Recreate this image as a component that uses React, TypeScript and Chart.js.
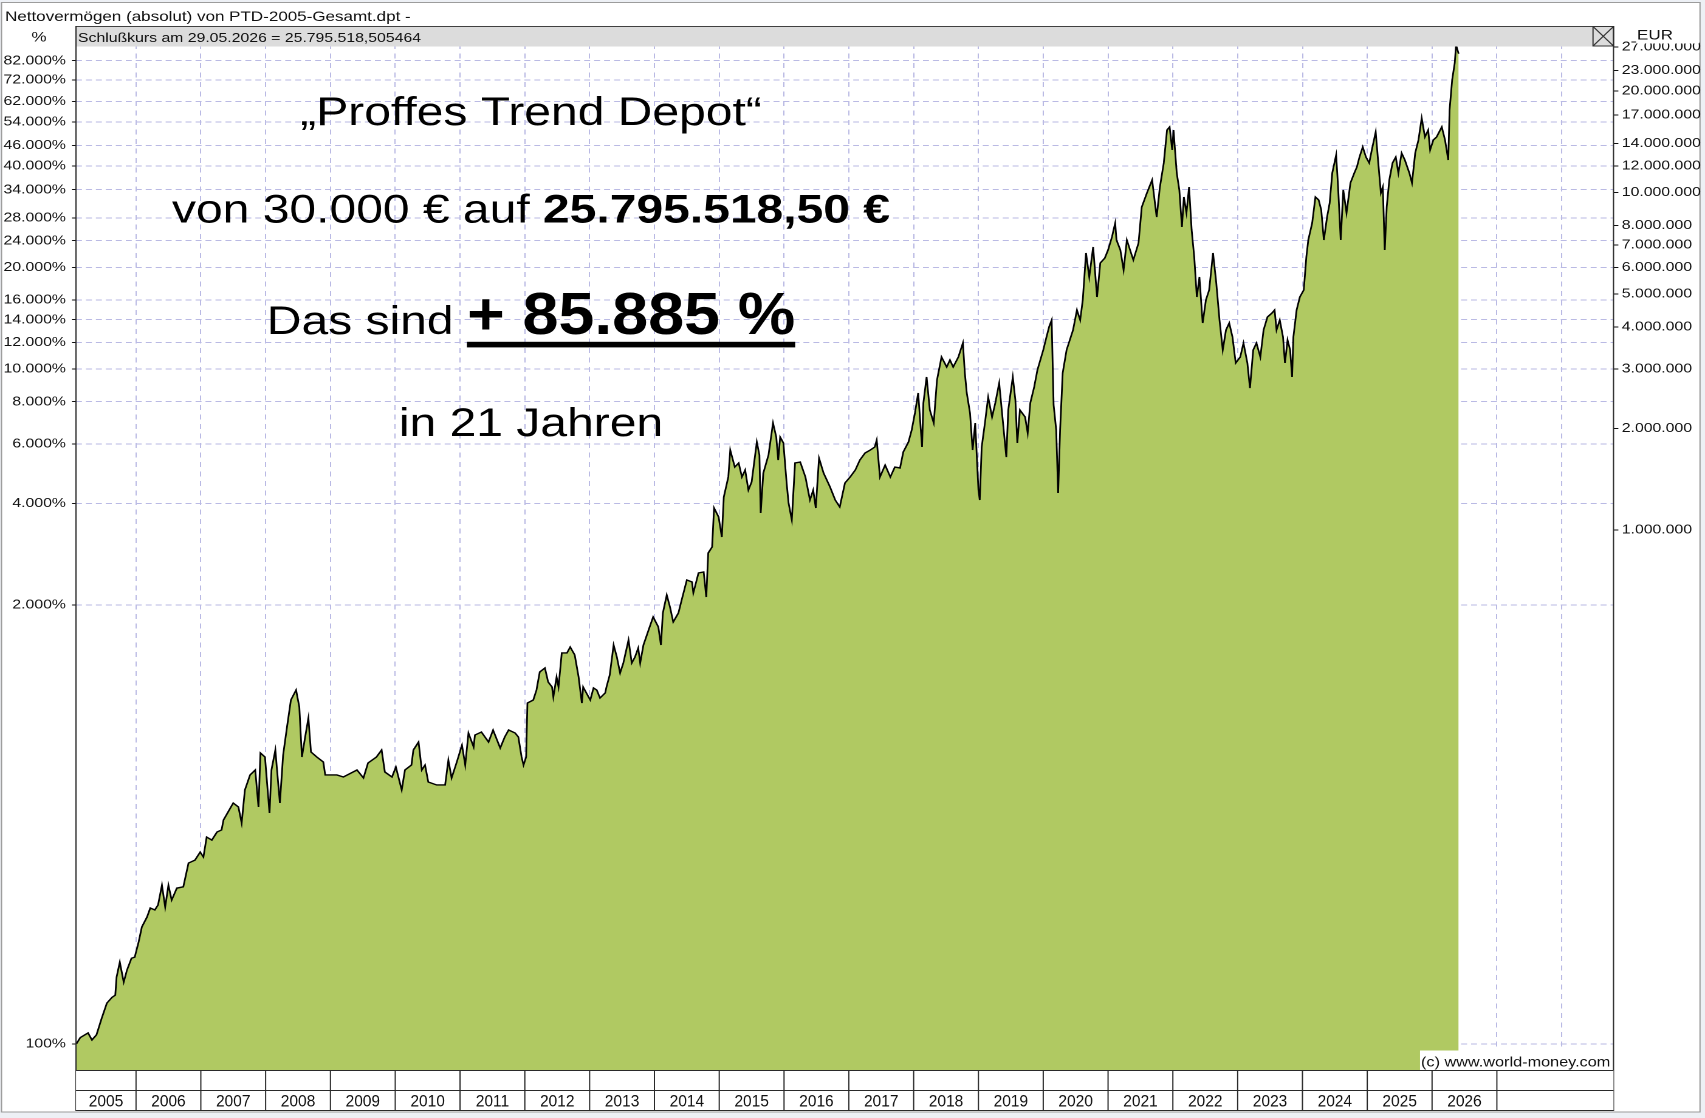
import React, { useEffect, useRef } from 'react';
import { Chart, registerables } from 'chart.js';

Chart.register(...registerables);

// ---------- data ----------
const START_CAPITAL = 30000; // EUR = 100 %

const years = [
  2005.08, 2005.14, 2005.26, 2005.32, 2005.39, 2005.47, 2005.55, 2005.63, 2005.68, 2005.70,
  2005.75, 2005.81, 2005.86, 2005.93, 2005.98, 2006.04, 2006.09, 2006.17, 2006.22, 2006.29,
  2006.34, 2006.40, 2006.45, 2006.50, 2006.55, 2006.63, 2006.73, 2006.81, 2006.91, 2006.99,
  2007.04, 2007.09, 2007.17, 2007.25, 2007.32, 2007.35, 2007.42, 2007.50, 2007.58, 2007.63,
  2007.68, 2007.76, 2007.84, 2007.89, 2007.92, 2007.99, 2008.06, 2008.09, 2008.15, 2008.22,
  2008.27, 2008.33, 2008.39, 2008.47, 2008.52, 2008.56, 2008.61, 2008.66, 2008.70, 2008.79,
  2008.89, 2008.92, 2009.10, 2009.20, 2009.41, 2009.51, 2009.58, 2009.71, 2009.79, 2009.84,
  2009.95, 2010.01, 2010.10, 2010.15, 2010.25, 2010.28, 2010.36, 2010.41, 2010.46, 2010.51,
  2010.64, 2010.77, 2010.82, 2010.87, 2010.95, 2011.03, 2011.08, 2011.13, 2011.21, 2011.23,
  2011.33, 2011.44, 2011.51, 2011.62, 2011.69, 2011.75, 2011.85, 2011.90, 2011.95, 2011.98,
  2012.02, 2012.04, 2012.13, 2012.18, 2012.23, 2012.31, 2012.36, 2012.42, 2012.44, 2012.49,
  2012.52, 2012.57, 2012.65, 2012.70, 2012.77, 2012.83, 2012.88, 2012.90, 2012.95, 2013.01,
  2013.06, 2013.11, 2013.16, 2013.24, 2013.26, 2013.31, 2013.37, 2013.42, 2013.47, 2013.52,
  2013.60, 2013.65, 2013.70, 2013.75, 2013.78, 2013.83, 2013.91, 2013.98, 2014.06, 2014.10,
  2014.13, 2014.19, 2014.24, 2014.29, 2014.37, 2014.42, 2014.50, 2014.58, 2014.60, 2014.68,
  2014.76, 2014.80, 2014.83, 2014.89, 2014.92, 2014.99, 2015.04, 2015.07, 2015.14, 2015.17,
  2015.24, 2015.30, 2015.35, 2015.40, 2015.45, 2015.50, 2015.58, 2015.62, 2015.64, 2015.68,
  2015.76, 2015.83, 2015.88, 2015.91, 2015.94, 2015.99, 2016.04, 2016.07, 2016.12, 2016.17,
  2016.25, 2016.33, 2016.40, 2016.45, 2016.49, 2016.54, 2016.61, 2016.71, 2016.79, 2016.86,
  2016.94, 2017.02, 2017.10, 2017.17, 2017.25, 2017.33, 2017.40, 2017.43, 2017.48, 2017.56,
  2017.64, 2017.71, 2017.79, 2017.84, 2017.92, 2017.97, 2018.02, 2018.07, 2018.13, 2018.15,
  2018.20, 2018.25, 2018.31, 2018.36, 2018.43, 2018.51, 2018.56, 2018.61, 2018.69, 2018.76,
  2018.79, 2018.82, 2018.87, 2018.91, 2018.95, 2019.00, 2019.02, 2019.05, 2019.10, 2019.15,
  2019.21, 2019.26, 2019.32, 2019.36, 2019.43, 2019.46, 2019.53, 2019.57, 2019.60, 2019.64,
  2019.72, 2019.76, 2019.80, 2019.86, 2019.91, 2020.00, 2020.05, 2020.09, 2020.13, 2020.16,
  2020.20, 2020.23, 2020.26, 2020.30, 2020.36, 2020.41, 2020.46, 2020.52, 2020.57, 2020.61,
  2020.66, 2020.71, 2020.77, 2020.83, 2020.88, 2020.95, 2021.00, 2021.06, 2021.11, 2021.13,
  2021.19, 2021.24, 2021.29, 2021.34, 2021.39, 2021.47, 2021.52, 2021.60, 2021.68, 2021.75,
  2021.80, 2021.86, 2021.91, 2021.95, 2021.99, 2022.01, 2022.06, 2022.10, 2022.14, 2022.17,
  2022.21, 2022.25, 2022.29, 2022.33, 2022.37, 2022.41, 2022.46, 2022.51, 2022.56, 2022.62,
  2022.67, 2022.72, 2022.77, 2022.82, 2022.87, 2022.92, 2022.97, 2023.04, 2023.09, 2023.15,
  2023.19, 2023.24, 2023.29, 2023.35, 2023.40, 2023.46, 2023.53, 2023.57, 2023.60, 2023.65,
  2023.70, 2023.73, 2023.77, 2023.81, 2023.84, 2023.86, 2023.91, 2023.96, 2024.02, 2024.06,
  2024.09, 2024.15, 2024.20, 2024.25, 2024.29, 2024.33, 2024.38, 2024.42, 2024.46, 2024.52,
  2024.55, 2024.59, 2024.63, 2024.68, 2024.74, 2024.80, 2024.84, 2024.88, 2024.93, 2024.98,
  2025.03, 2025.07, 2025.13, 2025.17, 2025.21, 2025.24, 2025.27, 2025.30, 2025.34, 2025.39,
  2025.44, 2025.48, 2025.53, 2025.58, 2025.65, 2025.69, 2025.74, 2025.79, 2025.84, 2025.89,
  2025.94, 2025.97, 2026.02, 2026.07, 2026.15, 2026.20, 2026.25, 2026.27, 2026.31, 2026.35,
  2026.37, 2026.41,
];

// Net assets in thousand EUR
const netWorthTEUR = [
  30.0, 31.3, 32.3, 30.8, 31.9, 35.7, 39.6, 41.2, 41.8, 47.3,
  52.4, 45.7, 49.6, 53.8, 54.2, 60.1, 66.6, 71.3, 75.8, 74.8,
  77.4, 88.6, 76.3, 88.6, 80.0, 86.8, 87.6, 103.0, 105.1, 111.0,
  107.3, 123.0, 120.5, 127.3, 129.1, 138.2, 145.9, 155.2, 151.0, 135.4,
  169.6, 187.9, 194.4, 151.0, 218.3, 212.4, 145.0, 194.4, 222.8, 155.2,
  215.3, 260.7, 313.4, 335.5, 298.8, 212.4, 243.5, 277.2, 219.8, 212.4,
  205.3, 187.9, 187.9, 185.3, 194.4, 184.1, 203.9, 212.4, 222.8, 191.8,
  185.3, 198.4, 169.6, 194.4, 201.1, 222.8, 235.3, 194.4, 201.1, 179.1,
  175.5, 175.5, 208.1, 184.1, 205.3, 230.5, 201.1, 250.2, 227.4, 246.8,
  251.9, 235.3, 255.4, 225.9, 243.5, 255.4, 250.2, 243.5, 212.4, 201.1,
  212.4, 307.0, 313.4, 335.5, 379.4, 389.9, 354.4, 342.5, 319.9, 366.7,
  342.5, 432.0, 432.0, 450.0, 426.1, 366.7, 307.0, 342.5, 328.8, 313.4,
  340.2, 335.5, 317.7, 328.8, 342.5, 371.7, 456.2, 420.3, 376.8, 403.4,
  472.0, 403.4, 420.3, 447.0, 403.4, 456.2, 505.4, 552.3, 515.9, 456.2,
  567.6, 641.7, 591.2, 533.8, 567.6, 620.2, 711.0, 701.3, 650.6, 745.7,
  750.8, 633.0, 854.8, 890.5, 1162, 1093, 953.4, 1252, 1436, 1726,
  1537, 1580, 1436, 1506, 1314, 1388, 1823, 1668, 1123, 1475,
  1668, 2075, 1886, 1612, 1886, 1811, 1378, 1202, 1071, 1580,
  1590, 1436, 1227, 1314, 1162, 1634, 1475, 1341, 1227, 1170,
  1378, 1436, 1506, 1612, 1691, 1726, 1762, 1848, 1436, 1558,
  1436, 1537, 1527, 1703, 1823, 1979, 2222, 2547, 1762, 2379,
  2841, 2268, 2075, 2783, 3256, 3041, 3190, 3041, 3256, 3583,
  2919, 2547, 2222, 1726, 2075, 1314, 1227, 1762, 2075, 2478,
  2162, 2379, 2727, 2268, 1645, 2268, 2841, 2428, 1811, 2268,
  2162, 1938, 2379, 2653, 2980, 3416, 3733, 3997, 4192, 2347,
  1979, 1287, 1979, 2919, 3416, 3657, 3916, 4488, 4192, 4805,
  6622, 5622, 6899, 4904, 6185, 6400, 6759, 7386, 8126, 7236,
  6759, 5897, 7236, 6759, 6313, 7090, 9065, 9974, 10900, 8466,
  10390, 12240, 15330, 15650, 13375, 15330, 11430, 10180, 7909, 9705,
  8701, 10390, 7748, 6444, 4904, 5622, 4107, 4805, 5144, 6622,
  5397, 4192, 3416, 3916, 4107, 3733, 3126, 3256, 3583, 3126,
  2635, 3416, 3583, 3256, 3916, 4279, 4397, 4488, 3916, 4192,
  3733, 3126, 3657, 3416, 2841, 3733, 4488, 4904, 5144, 6444,
  7236, 8126, 9705, 9508, 8881, 7236, 8466, 9315, 11430, 12930,
  10390, 7236, 10180, 8701, 10680, 11430, 11910, 12750, 13650, 12750,
  12240, 13375, 15120, 12240, 9974, 10390, 6759, 9065, 10900, 12240,
  12750, 11430, 13100, 12490, 11430, 10680, 13100, 14320, 16640, 14620,
  15330, 13375, 14320, 14620, 15650, 14320, 12490, 17570, 21570, 24220,
  27390, 25795.518505464,
];

// tick labels
const pctTicks = [100, 2000, 4000, 6000, 8000, 10000, 12000, 14000, 16000, 20000, 24000, 28000, 34000, 40000, 46000, 54000, 62000, 72000, 82000];
const eurTicks = [1e6, 2e6, 3e6, 4e6, 5e6, 6e6, 7e6, 8e6, 10e6, 12e6, 14e6, 17e6, 20e6, 23e6, 27e6];
const yearLabels = [2005, 2006, 2007, 2008, 2009, 2010, 2011, 2012, 2013, 2014, 2015, 2016, 2017, 2018, 2019, 2020, 2021, 2022, 2023, 2024, 2025, 2026];
const gridYears = [2006, 2007, 2008, 2009, 2010, 2011, 2012, 2013, 2014, 2015, 2016, 2017, 2018, 2019, 2020, 2021, 2022, 2023, 2024, 2025, 2026, 2027, 2028];

const TITLE = 'Nettovermögen (absolut) von PTD-2005-Gesamt.dpt -';
const HEADER = 'Schlußkurs am 29.05.2026 = 25.795.518,505464';
const COPYRIGHT = '(c) www.world-money.com';

// ---------- layout ----------
const W = 1403;
const H = 1118;
const R = 1705 / W; // horizontal stretch of the whole picture
const ux = (x: number) => x / R;

const X_MIN = 2005.074;
const X_MAX = 2028.8;
const Y_MIN = 25090;
const Y_MAX = 27570000;

const FONT = "'Liberation Sans', Arial, Helvetica, sans-serif";
const GRID = 'rgb(186,186,228)';
const FILL = 'rgb(176,201,98)';
const DARK = '#2a2a2a';

function fmtDE(n: number) {
  return Math.round(n).toString().replace(/\B(?=(\d{3})+(?!\d))/g, '.');
}

function txt(ctx: CanvasRenderingContext2D, s: string, x: number, y: number, font: string, align: CanvasTextAlign = 'left', sx = 1, color = '#000') {
  ctx.save();
  ctx.translate(x, y);
  ctx.scale(sx, 1);
  ctx.font = font;
  ctx.fillStyle = color;
  ctx.textAlign = align;
  ctx.textBaseline = 'alphabetic';
  ctx.fillText(s, 0, 0);
  ctx.restore();
}

function hline(ctx: CanvasRenderingContext2D, x0: number, x1: number, y: number) {
  ctx.beginPath();
  ctx.moveTo(x0, y);
  ctx.lineTo(x1, y);
  ctx.stroke();
}
function vline(ctx: CanvasRenderingContext2D, x: number, y0: number, y1: number) {
  ctx.beginPath();
  ctx.moveTo(x, y0);
  ctx.lineTo(x, y1);
  ctx.stroke();
}

const framePlugin = {
  id: 'frame',
  beforeDraw(chart: any) {
    const ctx: CanvasRenderingContext2D = chart.ctx;
    ctx.save();
    ctx.fillStyle = '#edf0f5';
    ctx.fillRect(0, 0, W, H);
    ctx.fillStyle = '#ffffff';
    ctx.fillRect(ux(1), 2, ux(1700) - ux(1), 1110);
    ctx.strokeStyle = '#9c9c9c';
    ctx.lineWidth = 1;
    ctx.strokeRect(ux(1.5), 2.5, ux(1700) - ux(1.5), 1109.5);
    ctx.restore();
  },
  afterDraw(chart: any) {
    const ctx: CanvasRenderingContext2D = chart.ctx;
    const xs = chart.scales.x;
    const L = ux(76);
    const RR = ux(1613.5);
    ctx.save();

    // header bar
    ctx.fillStyle = '#dcdcdc';
    ctx.fillRect(L, 26, RR - L, 20.5);
    ctx.strokeStyle = '#404040';
    ctx.lineWidth = 1;
    hline(ctx, L, RR, 26.5);
    txt(ctx, HEADER, ux(78), 42, `13px ${FONT}`, 'left', 1, '#111');

    // close box
    const bx0 = ux(1593), bx1 = ux(1613.5);
    ctx.strokeStyle = '#333';
    ctx.strokeRect(bx0, 26.5, bx1 - bx0, 19.5);
    ctx.beginPath();
    ctx.moveTo(bx0, 26.5); ctx.lineTo(bx1, 46);
    ctx.moveTo(bx1, 26.5); ctx.lineTo(bx0, 46);
    ctx.stroke();

    // axis lines
    ctx.strokeStyle = DARK;
    vline(ctx, L, 26, 1111);
    vline(ctx, RR, 26, 1111);

    // year table
    ctx.fillStyle = '#fff';
    ctx.fillRect(L, 1070, RR - L, 40.5);
    ctx.strokeStyle = DARK;
    hline(ctx, L, RR, 1070.5);
    hline(ctx, L, RR, 1090.5);
    hline(ctx, L, RR, 1110.5);
    for (let yr = 2006; yr <= 2027; yr++) {
      const px = xs.getPixelForValue(yr);
      vline(ctx, px, 1070.5, 1110.5);
    }
    yearLabels.forEach((yr) => {
      const a = xs.getPixelForValue(Math.max(yr, X_MIN));
      const b = xs.getPixelForValue(yr + 1);
      txt(ctx, String(yr), (a + b) / 2, 1106.5, `17px ${FONT}`, 'center', 0.75, '#111');
    });

    // copyright box
    ctx.fillStyle = '#fff';
    ctx.fillRect(ux(1420), 1050.5, ux(1612.5) - ux(1420), 19.5);
    txt(ctx, COPYRIGHT, ux(1421), 1066.5, `14px ${FONT}`, 'left', 0.955, '#111');

    // titles
    txt(ctx, TITLE, ux(5), 21, `14px ${FONT}`, 'left', 1, '#111');
    txt(ctx, '%', ux(39), 41.5, `14px ${FONT}`, 'center', 1, '#111');
    ctx.fillStyle = '#fff';
    ctx.fillRect(ux(1636), 27, ux(1699) - ux(1636), 16.5);
    txt(ctx, 'EUR', ux(1637), 39.5, `14px ${FONT}`, 'left', 1, '#111');

    // annotation
    const cx = ux(531);
    const big = `39.5px ${FONT}`;
    const bigB = `bold 39.5px ${FONT}`;
    txt(ctx, '\u201EProffes Trend Depot\u201C', cx, 125, big, 'center');

    ctx.font = big;
    const a1 = 'von 30.000 € auf ';
    const w1 = ctx.measureText(a1).width;
    ctx.font = bigB;
    const a2 = '25.795.518,50 €';
    const w2 = ctx.measureText(a2).width;
    let sx = cx - (w1 + w2) / 2;
    txt(ctx, a1, sx, 222.7, big);
    txt(ctx, a2, sx + w1, 222.7, bigB);

    ctx.font = big;
    const b1 = 'Das sind ';
    const v1 = ctx.measureText(b1).width;
    const hugeB = `bold 59px ${FONT}`;
    ctx.font = hugeB;
    const b2 = '+ 85.885 %';
    const sq = 0.9;
    const v2 = ctx.measureText(b2).width * sq;
    sx = cx - (v1 + v2) / 2;
    txt(ctx, b1, sx, 334, big);
    txt(ctx, b2, sx + v1, 334, hugeB, 'left', sq);
    ctx.fillStyle = '#000';
    ctx.fillRect(sx + v1, 341.8, v2, 5.6);

    txt(ctx, 'in 21 Jahren', cx, 436, big, 'center');

    ctx.restore();
  },
};

export default function App() {
  const ref = useRef<HTMLCanvasElement>(null);

  useEffect(() => {
    document.body.style.overflow = 'hidden';
    const canvas = ref.current;
    if (!canvas) return;
    Chart.defaults.font.family = FONT;

    const data = years.map((t, i) => ({ x: t, y: netWorthTEUR[i] * 1000 }));

    const chart = new Chart(canvas, {
      type: 'line',
      data: {
        datasets: [
          {
            data,
            xAxisID: 'x',
            yAxisID: 'yl',
            borderColor: '#000',
            borderWidth: 1.4,
            pointRadius: 0,
            tension: 0,
            fill: 'start',
            backgroundColor: FILL,
          },
        ],
      },
      options: {
        responsive: false,
        animation: false,
        devicePixelRatio: 2,
        events: [],
        layout: { padding: { top: 44, left: 0, right: 0, bottom: 0 } },
        plugins: {
          legend: { display: false },
          tooltip: { enabled: false },
          title: { display: false },
        },
        scales: {
          x: {
            type: 'linear',
            position: 'bottom',
            min: X_MIN,
            max: X_MAX,
            bounds: 'data',
            afterBuildTicks: (s: any) => {
              s.ticks = gridYears.map((v) => ({ value: v }));
            },
            afterFit: (s: any) => {
              s.height = H - 1070;
            },
            ticks: { display: false },
            grid: { color: GRID, lineWidth: 1, drawTicks: false },
            border: { display: false, dash: [5, 4.5] },
          },
          yl: {
            type: 'logarithmic',
            position: 'left',
            min: Y_MIN,
            max: Y_MAX,
            bounds: 'data',
            afterBuildTicks: (s: any) => {
              s.ticks = pctTicks.map((p) => ({ value: (p * START_CAPITAL) / 100 }));
            },
            afterFit: (s: any) => {
              s.width = ux(76);
            },
            ticks: {
              autoSkip: false,
              padding: 5,
              color: '#111',
              font: { size: 13, family: FONT },
              callback: (v: any) => fmtDE((Number(v) / START_CAPITAL) * 100) + '%',
            },
            grid: { color: GRID, lineWidth: 1, drawTicks: true, tickLength: 3.3, tickColor: '#111', tickWidth: 1 },
            border: { display: false, dash: [4.9, 3.3] },
          },
          yr: {
            type: 'logarithmic',
            position: 'right',
            min: Y_MIN,
            max: Y_MAX,
            bounds: 'data',
            afterBuildTicks: (s: any) => {
              s.ticks = eurTicks.map((v) => ({ value: v }));
            },
            afterFit: (s: any) => {
              s.width = W - ux(1613.5);
            },
            ticks: {
              autoSkip: false,
              padding: 2.8,
              color: '#111',
              font: { size: 13, family: FONT },
              callback: (v: any) => fmtDE(Number(v)),
            },
            grid: { drawOnChartArea: false, drawTicks: true, tickLength: 4, tickColor: '#111', tickWidth: 1 },
            border: { display: false },
          },
        },
      } as any,
      plugins: [framePlugin],
    });

    return () => chart.destroy();
  }, []);

  return (
    <div
      style={{
        position: 'absolute',
        left: 0,
        top: 0,
        width: W,
        height: H,
        transform: `scaleX(${R})`,
        transformOrigin: '0 0',
      }}
    >
      <canvas ref={ref} width={W} height={H} style={{ display: 'block', width: W, height: H }} />
    </div>
  );
}
